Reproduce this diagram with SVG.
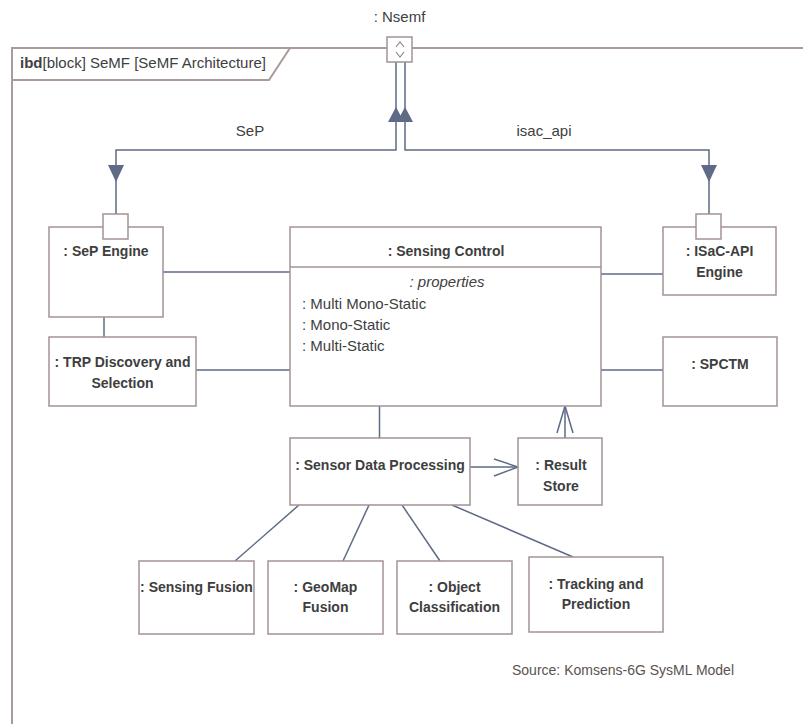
<svg xmlns="http://www.w3.org/2000/svg" width="803" height="724" viewBox="0 0 803 724">
<style>
.box{fill:#ffffff;stroke:#a39292;stroke-width:1.5}
.frame{fill:none;stroke:#ab9a9a;stroke-width:2}
.con{fill:none;stroke:#5f6a86;stroke-width:1.5}
.fillarrow{fill:#5f6a86;stroke:none}
.b{font-family:"Liberation Sans",Arial,sans-serif;font-weight:bold;font-size:14px;fill:#3e3e3e;text-anchor:middle}
.r{font-family:"Liberation Sans",Arial,sans-serif;font-size:15px;fill:#404040}
.c{text-anchor:middle}
.i{font-style:italic}
.src{font-family:"Liberation Sans",Arial,sans-serif;font-size:14px;fill:#5b524e}
</style>
<rect x="0" y="0" width="803" height="724" fill="#ffffff"/>
<g id="frame">
<path class="frame" d="M12,724 V48 H803"/>
<path class="frame" d="M12,80 H269 L290,48"/>
<text class="r" x="20" y="68"><tspan font-weight="bold">ibd</tspan>[block] SeMF [SeMF Architecture]</text>
</g>
<g id="connectors">
<path class="con" d="M396,62 V150 H116 V214"/>
<path class="con" d="M405,62 V150 H709 V214"/>
<polygon class="fillarrow" points="396,107 388,122 404,122"/>
<polygon class="fillarrow" points="405,107 397,122 413,122"/>
<polygon class="fillarrow" points="116,182 108,165 124,165"/>
<polygon class="fillarrow" points="709,182 701,165 717,165"/>
<text class="r c" x="250" y="136">SeP</text>
<text class="r c" x="544" y="136">isac_api</text>
<line class="con" x1="163" y1="272" x2="290" y2="272"/>
<line class="con" x1="104" y1="317" x2="104" y2="337"/>
<line class="con" x1="196" y1="370" x2="290" y2="370"/>
<line class="con" x1="601" y1="274" x2="663" y2="274"/>
<line class="con" x1="601" y1="370" x2="663" y2="370"/>
<line class="con" x1="379.5" y1="406" x2="379.5" y2="438"/>
<line class="con" x1="470" y1="467" x2="518" y2="467"/>
<polyline class="con" points="494,459 518,467 494,476"/>
<line class="con" x1="565" y1="438" x2="565" y2="406"/>
<polyline class="con" points="557,433 565,406 573,433"/>
<line class="con" x1="299" y1="505" x2="235" y2="561"/>
<line class="con" x1="369" y1="505" x2="343" y2="561"/>
<line class="con" x1="402" y1="505" x2="440" y2="561"/>
<line class="con" x1="452" y1="505" x2="573" y2="557"/>
</g>
<g id="port-nsemf">
<rect class="box" x="387" y="37" width="25" height="25"/>
<polyline fill="none" stroke="#8a8a8a" stroke-width="1.2" points="396,47 400,42 404,47"/>
<polyline fill="none" stroke="#8a8a8a" stroke-width="1.2" points="396,52 400,57 404,52"/>
<text class="r c" x="399.5" y="22">: Nsemf</text>
</g>
<g id="sep-engine">
<rect class="box" x="49" y="227" width="114" height="90"/>
<rect class="box" x="103" y="214" width="25" height="25"/>
<text class="b" x="106" y="256">: SeP Engine</text>
</g>
<g id="isac-api-engine">
<rect class="box" x="663" y="227" width="113" height="68"/>
<rect class="box" x="696" y="214" width="25" height="25"/>
<text class="b" x="719.5" y="256">: ISaC-API</text>
<text class="b" x="719.5" y="277">Engine</text>
</g>
<g id="sensing-control">
<rect class="box" x="290" y="227" width="311" height="179"/>
<line class="box" x1="290" y1="267" x2="601" y2="267"/>
<text class="b" x="446" y="256">: Sensing Control</text>
<text class="r c i" x="447" y="287">: properties</text>
<text class="r" x="302" y="309">: Multi Mono-Static</text>
<text class="r" x="302" y="330">: Mono-Static</text>
<text class="r" x="302" y="351">: Multi-Static</text>
</g>
<g id="trp-discovery">
<rect class="box" x="49" y="337" width="147" height="69"/>
<text class="b" x="122.5" y="367">: TRP Discovery and</text>
<text class="b" x="122.5" y="388">Selection</text>
</g>
<g id="spctm">
<rect class="box" x="663" y="337" width="114" height="69"/>
<text class="b" x="720" y="369">: SPCTM</text>
</g>
<g id="sensor-data-processing">
<rect class="box" x="290" y="438" width="180" height="67"/>
<text class="b" x="380" y="470">: Sensor Data Processing</text>
</g>
<g id="result-store">
<rect class="box" x="518" y="438" width="84" height="67"/>
<text class="b" x="561" y="470">: Result</text>
<text class="b" x="561" y="491">Store</text>
</g>
<g id="sensing-fusion">
<rect class="box" x="139" y="561" width="115" height="73"/>
<text class="b" x="196.5" y="592">: Sensing Fusion</text>
</g>
<g id="geomap-fusion">
<rect class="box" x="268" y="561" width="115" height="73"/>
<text class="b" x="325.5" y="592">: GeoMap</text>
<text class="b" x="325.5" y="612">Fusion</text>
</g>
<g id="object-classification">
<rect class="box" x="397" y="561" width="115" height="73"/>
<text class="b" x="454.5" y="592">: Object</text>
<text class="b" x="454.5" y="612">Classification</text>
</g>
<g id="tracking-prediction">
<rect class="box" x="529" y="557" width="134" height="75"/>
<text class="b" x="596" y="589">: Tracking and</text>
<text class="b" x="596" y="609">Prediction</text>
</g>
<text class="src" x="512" y="675">Source: Komsens-6G SysML Model</text>
</svg>
